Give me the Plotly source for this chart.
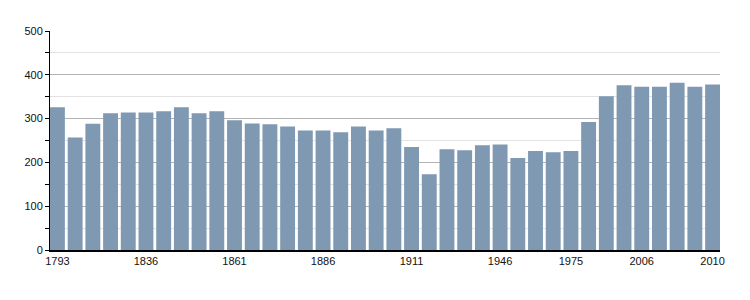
import plotly.graph_objects as go

years = ["1793", "1800", "1806", "1821", "1831", "1836", "1841", "1846", "1851", "1856",
         "1861", "1866", "1872", "1876", "1881", "1886", "1891", "1896", "1901", "1906",
         "1911", "1921", "1926", "1931", "1936", "1946", "1954", "1962", "1968", "1975",
         "1982", "1990", "1999", "2006", "2007", "2008", "2009", "2010"]
population = [326, 257, 288, 312, 314, 314, 317, 326, 312, 317,
              296, 289, 287, 282, 273, 273, 269, 282, 273, 278,
              235, 173, 230, 228, 239, 241, 210, 226, 223, 226,
              292, 351, 376, 373, 373, 382, 373, 378]
tick_labels = ["1793", "1836", "1861", "1886", "1911", "1946", "1975", "2006", "2010"]

fig = go.Figure(go.Bar(x=years, y=population, marker=dict(color="#7f99b2", line=dict(width=0))))

fig.update_layout(
    width=750, height=300,
    margin=dict(l=50, r=30, t=31, b=50),
    paper_bgcolor="white", plot_bgcolor="white",
    bargap=0.16,
    showlegend=False,
    font=dict(family="Liberation Sans, Arial, sans-serif", size=11, color="#111"),
)
fig.update_xaxes(
    type="category", range=[-0.42, 37.42],
    tickmode="array", tickvals=tick_labels, ticktext=tick_labels,
    showline=True, linecolor="black", linewidth=1.5,
    ticks="", showgrid=False, tickangle=0,
)
fig.update_yaxes(
    range=[0, 500], tickvals=[0, 100, 200, 300, 400, 500],
    showline=True, linecolor="black", linewidth=1,
    ticks="outside", ticklen=4, tickcolor="black", tickwidth=1,
    showgrid=True, gridcolor="#b3b3b3", gridwidth=1,
    minor=dict(tickvals=[50, 150, 250, 350, 450], ticks="outside", ticklen=4,
               tickcolor="black", showgrid=True, gridcolor="#e2e2e2", gridwidth=1),
    zeroline=False, fixedrange=True,
)

fig.write_html("out.html")
